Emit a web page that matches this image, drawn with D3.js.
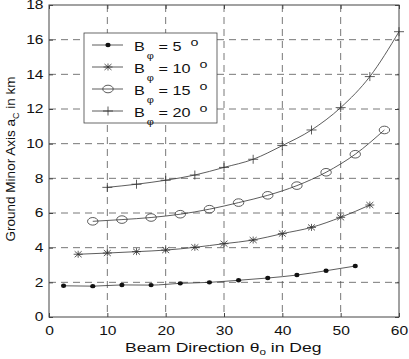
<!DOCTYPE html>
<html>
<head>
<meta charset="utf-8">
<script src="https://cdn.jsdelivr.net/npm/d3@7"></script>
<style>
  body { margin: 0; background: #fff; }
  svg { display: block; font-family: "Liberation Sans", Arial, sans-serif; }
</style>
</head>
<body>
<div id="chart"></div>
<script>
const xTicks = [0, 10, 20, 30, 40, 50, 60];
const yTicks = [0, 2, 4, 6, 8, 10, 12, 14, 16, 18];

const beamDeg5 = [2.5, 7.5, 12.5, 17.5, 22.5, 27.5, 32.5, 37.5, 42.5, 47.5, 52.5];
const axis5 = [1.8, 1.78, 1.85, 1.84, 1.94, 2.0, 2.12, 2.25, 2.42, 2.67, 2.94];

const beamDeg10 = [5, 10, 15, 20, 25, 30, 35, 40, 45, 50, 55];
const axis10 = [3.62, 3.69, 3.77, 3.86, 4.02, 4.23, 4.44, 4.81, 5.17, 5.75, 6.46];

const beamDeg15 = [7.5, 12.5, 17.5, 22.5, 27.5, 32.5, 37.5, 42.5, 47.5, 52.5, 57.5];
const axis15 = [5.52, 5.62, 5.74, 5.93, 6.22, 6.6, 7.02, 7.58, 8.35, 9.39, 10.79];

const beamDeg20 = [10, 15, 20, 25, 30, 35, 40, 45, 50, 55, 60];
const axis20 = [7.48, 7.66, 7.89, 8.19, 8.63, 9.1, 9.89, 10.79, 12.08, 13.87, 16.46];

const seriesLabels = ["5", "10", "15", "20"];
const markerKinds = ["dot", "star", "circle", "plus"];

const width = 409, height = 359;
const margin = { top: 5, right: 10, bottom: 42, left: 49 };
const innerWidth = width - margin.left - margin.right;
const innerHeight = height - margin.top - margin.bottom;
const stretch = 1.3; // the original text is wide

const series = [
  { xs: beamDeg5, ys: axis5 },
  { xs: beamDeg10, ys: axis10 },
  { xs: beamDeg15, ys: axis15 },
  { xs: beamDeg20, ys: axis20 }
].map((s, i) => ({
  label: seriesLabels[i],
  kind: markerKinds[i],
  points: s.xs.map((x, j) => ({ x, y: s.ys[j] }))
}));

const x = d3.scaleLinear().domain([0, 60]).range([0, innerWidth]);
const y = d3.scaleLinear().domain([0, 18]).range([innerHeight, 0]);

const svg = d3.select("#chart").append("svg")
  .attr("width", width)
  .attr("height", height);

const g = svg.append("g")
  .attr("transform", `translate(${margin.left}, ${margin.top})`);

// dashed grid
g.append("g")
  .selectAll("line")
  .data(xTicks.slice(1, -1))
  .join("line")
  .attr("x1", d => x(d)).attr("x2", d => x(d))
  .attr("y1", 0).attr("y2", innerHeight)
  .attr("stroke", "#555").attr("stroke-width", 0.8)
  .attr("stroke-dasharray", "7,5");

g.append("g")
  .selectAll("line")
  .data(yTicks.slice(1, -1))
  .join("line")
  .attr("x1", 0).attr("x2", innerWidth)
  .attr("y1", d => y(d)).attr("y2", d => y(d))
  .attr("stroke", "#555").attr("stroke-width", 0.8)
  .attr("stroke-dasharray", "7,5");

// axes box
g.append("rect")
  .attr("width", innerWidth).attr("height", innerHeight)
  .attr("fill", "none").attr("stroke", "#444").attr("stroke-width", 1);

const xAxis = d3.axisBottom(x).tickValues(xTicks).tickSizeInner(-4).tickSizeOuter(0).tickPadding(9);
const yAxis = d3.axisLeft(y).tickValues(yTicks).tickSizeInner(-4).tickSizeOuter(0).tickPadding(7);

const styleAxis = sel => {
  sel.select(".domain").remove();
  sel.selectAll(".tick line").attr("stroke", "#444");
  sel.selectAll(".tick text")
    .attr("fill", "#111")
    .attr("transform", `scale(${stretch},1)`)
    .style("font-family", "'Liberation Sans', Arial, sans-serif")
    .style("font-size", "12px");
};

g.append("g").attr("transform", `translate(0, ${innerHeight})`).call(xAxis).call(styleAxis);
g.append("g").call(yAxis).call(styleAxis)
  .selectAll(".tick text").attr("x", -5.5 / stretch);

// mirrored ticks on top and right
g.append("g")
  .call(d3.axisTop(x).tickValues(xTicks).tickSizeInner(-4).tickSizeOuter(0).tickFormat(""))
  .call(sel => { sel.select(".domain").remove(); sel.selectAll(".tick line").attr("stroke", "#444"); });
g.append("g").attr("transform", `translate(${innerWidth}, 0)`)
  .call(d3.axisRight(y).tickValues(yTicks).tickSizeInner(-4).tickSizeOuter(0).tickFormat(""))
  .call(sel => { sel.select(".domain").remove(); sel.selectAll(".tick line").attr("stroke", "#444"); });

// lines
const line = d3.line()
  .x(d => x(d.x))
  .y(d => y(d.y))
  .curve(d3.curveMonotoneX);

g.append("g")
  .selectAll("path")
  .data(series)
  .join("path")
  .attr("d", d => line(d.points))
  .attr("fill", "none")
  .attr("stroke", "#333")
  .attr("stroke-width", 0.8);

// markers
const drawMarker = (sel, kind) => {
  if (kind === "dot") {
    sel.append("ellipse").attr("rx", 2.6).attr("ry", 2.2).attr("fill", "#111");
  } else if (kind === "circle") {
    sel.append("ellipse").attr("rx", 5.2).attr("ry", 3.8)
      .attr("fill", "none").attr("stroke", "#333").attr("stroke-width", 0.8);
  } else if (kind === "plus") {
    sel.append("path").attr("d", "M-5,0H5M0,-4.5V4.5")
      .attr("stroke", "#333").attr("stroke-width", 0.8);
  } else {
    sel.append("path").attr("d", "M-4.5,0H4.5M0,-3.5V3.5M-3.5,-3L3.5,3M-3.5,3L3.5,-3")
      .attr("stroke", "#333").attr("stroke-width", 0.8);
  }
};

series.forEach(s => {
  g.append("g")
    .selectAll("g")
    .data(s.points)
    .join("g")
    .attr("transform", d => `translate(${x(d.x)}, ${y(d.y)})`)
    .each(function () { drawMarker(d3.select(this), s.kind); });
});

// legend
const legend = svg.append("g").attr("transform", "translate(84, 33)");
legend.append("rect")
  .attr("width", 133).attr("height", 90)
  .attr("fill", "#fff").attr("stroke", "#444").attr("stroke-width", 0.8);

const rows = legend.selectAll("g.row")
  .data(series)
  .join("g")
  .attr("class", "row")
  .attr("transform", (d, i) => `translate(0, ${12 + i * 22})`);

rows.append("line")
  .attr("x1", 8).attr("x2", 39)
  .attr("stroke", "#333").attr("stroke-width", 0.8);

rows.append("g")
  .attr("transform", "translate(24, 0)")
  .each(function (d) { drawMarker(d3.select(this), d.kind); });

const legendText = rows.append("text")
  .attr("transform", `translate(50, 5.5) scale(${stretch},1)`)
  .attr("fill", "#111")
  .style("font-size", "12.5px");
legendText.append("tspan").text("B");
legendText.append("tspan").attr("dx", 1.5).attr("dy", 9).style("font-size", "8.5px").text("\u03c6");
legendText.append("tspan").attr("dy", -9).text(d => ` = ${d.label}`);
legendText.append("tspan").attr("dx", 7).attr("dy", -5).style("font-size", "11px").text("o");

// axis labels
const xLabel = svg.append("text")
  .attr("transform", `translate(125, 351.5) scale(${stretch},1)`)
  .attr("fill", "#111")
  .style("font-size", "13.5px");
xLabel.append("tspan").text("Beam Direction \u03b8");
xLabel.append("tspan").attr("dy", 3.5).style("font-size", "9px").text("o");
xLabel.append("tspan").attr("dy", -3.5).text(" in Deg");

const yLabel = svg.append("text")
  .attr("transform", "translate(14.5, 159) rotate(-90)")
  .attr("text-anchor", "middle")
  .attr("fill", "#111")
  .style("font-size", "13.5px");
yLabel.append("tspan").text("Ground Minor Axis a");
yLabel.append("tspan").attr("dy", 4.5).style("font-size", "9px").text("C");
yLabel.append("tspan").attr("dy", -4.5).text(" in km");
</script>
</body>
</html>
